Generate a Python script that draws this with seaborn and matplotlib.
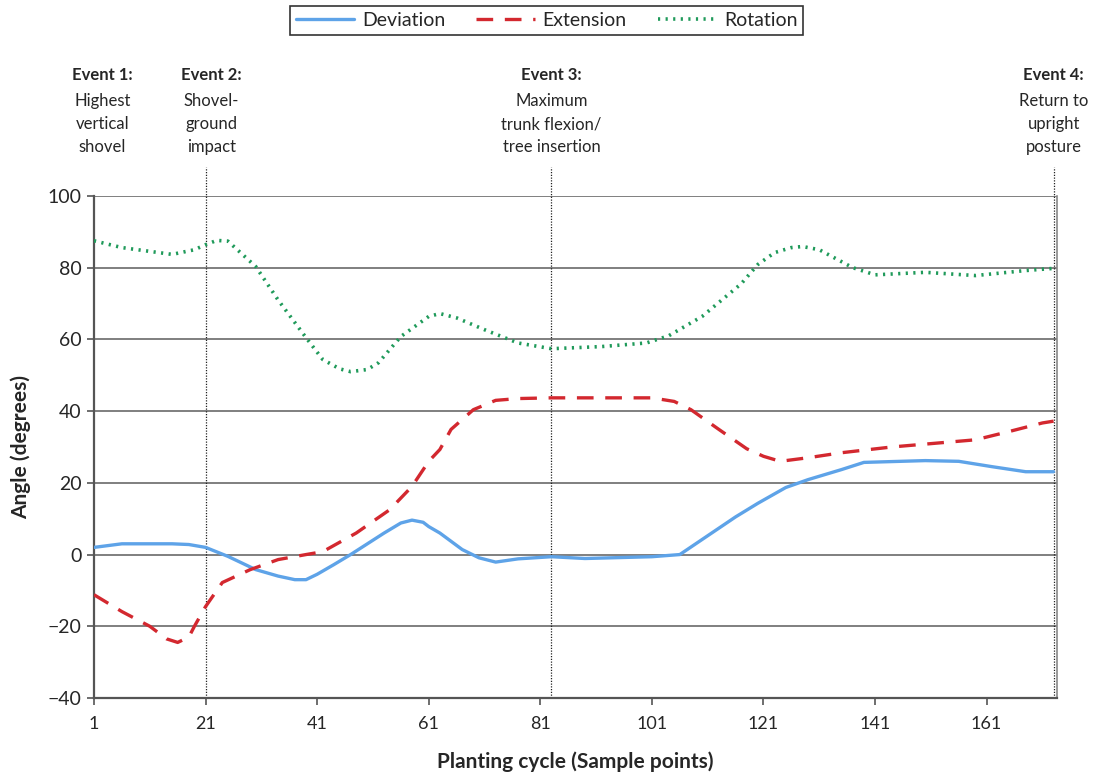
import pandas as pd
import matplotlib
matplotlib.use("Agg")
import matplotlib.pyplot as plt
import seaborn as sns

# values
dev_x = [1, 6, 15, 18, 21, 25, 30, 34, 37, 39, 41, 44, 47, 53, 56, 58, 60, 61, 63, 67, 70, 73,
         77, 83, 89, 101, 106, 110, 116, 120, 125, 129, 135, 139, 150, 156, 162, 168, 173]
dev_y = [2, 3, 3, 2.8, 2, -0.5, -4.2, -6, -7, -7, -5.5, -2.8, 0, 6, 8.8, 9.6, 9, 7.8, 6, 1.4, -0.9, -2.1,
         -1.2, -0.6, -1.1, -0.6, 0, 4.2, 10.5, 14.3, 18.7, 20.9, 23.7, 25.7, 26.2, 26, 24.5, 23.1, 23.1]

ext_x = [1, 6, 11, 14, 16, 18, 19, 21, 24, 29, 34, 39, 42, 48, 54, 58, 61, 63, 65, 69, 73,
         77, 83, 101, 105, 108, 113, 118, 121, 124, 129, 135, 144, 153, 159, 165, 171, 173]
ext_y = [-11.2, -15.9, -20, -23.5, -24.5, -23, -20, -14.5, -7.8, -4.2, -1.4, 0, 0.8, 6, 12.5, 19, 26,
         29.3, 34.9, 40.4, 43, 43.5, 43.7, 43.7, 42.7, 40.4, 34.9, 29.5, 27.4, 26, 27, 28.4, 30,
         31.2, 32, 34.3, 36.7, 37.2]

rot_x = [1, 6, 15, 19, 21, 23, 25, 30, 34, 39, 42, 45, 47, 50, 52, 56, 61, 63, 66, 71, 77, 83, 92,
         100, 104, 110, 117, 120, 123, 126, 128, 131, 134, 137, 141, 150, 159, 168, 173]
rot_y = [87.5, 85.6, 83.7, 85, 86.4, 87.6, 87.4, 80.3, 71, 60.5, 54.4, 51.8, 51, 51.6, 53.5, 60.8,
         66.4, 67.2, 66, 62.7, 59, 57.4, 58, 59, 61, 66.4, 75.5, 80.9, 84.2, 85.6, 85.9, 85, 82.5,
         80, 78, 78.7, 77.8, 79.2, 79.8]

events_x = [21, 83, 173]
event_labels = [
    (2.5, "Event 1:", "Highest\nvertical\nshovel"),
    (22, "Event 2:", "Shovel-\nground\nimpact"),
    (83, "Event 3:", "Maximum\ntrunk flexion/\ntree insertion"),
    (173, "Event 4:", "Return to\nupright\nposture"),
]
x_ticks = [1, 21, 41, 61, 81, 101, 121, 141, 161]
y_ticks = [-40, -20, 0, 20, 40, 60, 80, 100]

sns.set_theme(style="white")
plt.rcParams["font.family"] = ["Lato", "DejaVu Sans"]

fig = plt.figure(figsize=(10.98, 7.76), dpi=100)
ax = fig.add_axes([0.0856, 0.1005, 0.877, 0.647])

for yv in y_ticks[1:]:
    ax.axhline(yv, color="#7f7f7f", lw=1.4, zorder=1)

for xv in events_x:
    ax.axvline(xv, ymin=0, ymax=1.058, color="#222222", lw=0.9, ls=(0, (1, 1.2)),
               clip_on=False, zorder=2)

sns.lineplot(x=dev_x, y=dev_y, ax=ax, color="#5ea3e8", lw=2.4, label="Deviation", zorder=3)
sns.lineplot(x=ext_x, y=ext_y, ax=ax, color="#d3282f", lw=2.4, label="Extension",
             linestyle=(0, (5, 3.5)), zorder=3)
sns.lineplot(x=rot_x, y=rot_y, ax=ax, color="#1f9a5a", lw=2.6, label="Rotation",
             linestyle=(0, (0.6, 1.5)), zorder=3)

ax.set_xlim(1, 173.6)
ax.set_ylim(-40, 100)
ax.set_xticks(x_ticks)
ax.set_yticks(y_ticks)
ax.set_yticklabels([str(v).replace("-", "\u2212") for v in y_ticks])
ax.tick_params(axis="both", which="both", direction="out", length=5, width=1.2,
               color="#555555", bottom=True, left=True)
ax.tick_params(axis="y", labelsize=14, pad=4)
ax.tick_params(axis="x", labelsize=13, pad=8)

for side in ["left", "bottom"]:
    ax.spines[side].set_color("#555555")
    ax.spines[side].set_linewidth(1.6)
ax.spines["right"].set_color("#888888")
ax.spines["right"].set_linewidth(1.2)
ax.spines["top"].set_visible(False)

ax.set_xlabel("Planting cycle (Sample points)", fontsize=15, fontweight="bold", labelpad=14)
ax.set_ylabel("Angle (degrees)", fontsize=15, fontweight="bold", labelpad=12)

for xv, head, body in event_labels:
    ax.text(xv, 133.7, head, ha="center", va="center", fontsize=12, fontweight="bold")
    ax.text(xv, 120.0, body, ha="center", va="center", fontsize=12, linespacing=1.55)

leg = ax.legend(loc="center", bbox_to_anchor=(0.47, 1.349), ncol=3, fontsize=14,
                frameon=True, fancybox=False, edgecolor="black", handlelength=3.0,
                columnspacing=1.6, borderpad=0.3, handletextpad=0.4)
leg.get_frame().set_linewidth(1.2)

fig.savefig("out.png", dpi=100)
